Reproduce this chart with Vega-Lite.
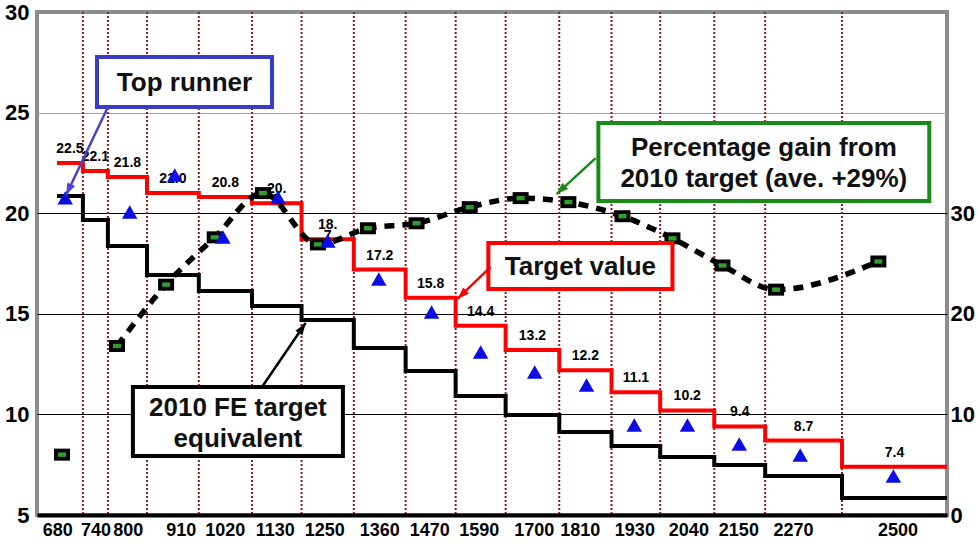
{
  "$schema": "https://vega.github.io/schema/vega-lite/v6.json",
  "width": 910,
  "height": 503,
  "autosize": "none",
  "padding": {"left": 37, "top": 12, "right": 33, "bottom": 30},
  "background": "white",
  "config": {
    "font": "Liberation Sans",
    "view": {"stroke": "#8c8c8c", "strokeWidth": 4},
    "axis": {"labelFont": "Liberation Sans", "labelFontWeight": "bold", "labelColor": "black", "ticks": false, "tickSize": 0, "domain": false, "grid": false}
  },
  "datasets": {
    "classes": [
      {"cls": "680", "from": 651, "to": 708, "target": 22.5, "fe": 20.85, "txt": "22.5"},
      {"cls": "740", "from": 708, "to": 763, "target": 22.1, "fe": 19.66, "txt": "22.1"},
      {"cls": "800", "from": 763, "to": 849, "target": 21.8, "fe": 18.37, "txt": "21.8"},
      {"cls": "910", "from": 849, "to": 963, "target": 21.0, "fe": 16.93, "txt": "21.0"},
      {"cls": "1020", "from": 963, "to": 1080, "target": 20.8, "fe": 16.13, "txt": "20.8"},
      {"cls": "1130", "from": 1080, "to": 1189, "target": 20.5, "fe": 15.39, "txt": "20.\n5"},
      {"cls": "1250", "from": 1189, "to": 1304, "target": 18.7, "fe": 14.69, "txt": "18.\n7"},
      {"cls": "1360", "from": 1304, "to": 1418, "target": 17.2, "fe": 13.30, "txt": "17.2"},
      {"cls": "1470", "from": 1418, "to": 1528, "target": 15.8, "fe": 12.16, "txt": "15.8"},
      {"cls": "1590", "from": 1528, "to": 1638, "target": 14.4, "fe": 10.91, "txt": "14.4"},
      {"cls": "1700", "from": 1638, "to": 1756, "target": 13.2, "fe": 9.97, "txt": "13.2"},
      {"cls": "1810", "from": 1756, "to": 1871, "target": 12.2, "fe": 9.13, "txt": "12.2"},
      {"cls": "1930", "from": 1871, "to": 1978, "target": 11.1, "fe": 8.43, "txt": "11.1"},
      {"cls": "2040", "from": 1978, "to": 2097, "target": 10.2, "fe": 7.88, "txt": "10.2"},
      {"cls": "2150", "from": 2097, "to": 2209, "target": 9.4, "fe": 7.49, "txt": "9.4"},
      {"cls": "2270", "from": 2209, "to": 2378, "target": 8.7, "fe": 6.94, "txt": "8.7"},
      {"cls": "2500", "from": 2378, "to": 2609, "target": 7.4, "fe": 5.84, "txt": "7.4"}
    ],
    "topRunner": [
      {"w": 669, "fe": 20.76}, {"w": 811, "fe": 20.06}, {"w": 910, "fe": 21.9}, {"w": 1016, "fe": 18.82},
      {"w": 1137, "fe": 20.8}, {"w": 1247, "fe": 18.62}, {"w": 1359, "fe": 16.73}, {"w": 1475, "fe": 15.09},
      {"w": 1583, "fe": 13.1}, {"w": 1702, "fe": 12.11}, {"w": 1816, "fe": 11.46}, {"w": 1921, "fe": 9.47},
      {"w": 2038, "fe": 9.47}, {"w": 2152, "fe": 8.53}, {"w": 2286, "fe": 7.98}, {"w": 2491, "fe": 6.94}
    ],
    "gain": [
      {"w": 662, "gain": 6.0}, {"w": 783, "gain": 16.8}, {"w": 891, "gain": 22.9}, {"w": 998, "gain": 27.6},
      {"w": 1104, "gain": 32.0}, {"w": 1225, "gain": 26.9}, {"w": 1335, "gain": 28.5}, {"w": 1442, "gain": 29.0},
      {"w": 1559, "gain": 30.6}, {"w": 1671, "gain": 31.5}, {"w": 1776, "gain": 31.1}, {"w": 1895, "gain": 29.7},
      {"w": 2005, "gain": 27.5}, {"w": 2115, "gain": 24.8}, {"w": 2233, "gain": 22.4}, {"w": 2458, "gain": 25.2}
    ],
    "boxes": [
      {"note": "top", "w": 739, "w2": 1124, "v": 27.76, "v2": 25.28, "txt": "Top runner"},
      {"note": "gain", "w": 1842, "w2": 2570, "v": 24.48, "v2": 20.61, "txt": "Percentage gain from\n2010 target (ave. +29%)"},
      {"note": "target", "w": 1600, "w2": 2005, "v": 18.52, "v2": 16.23, "txt": "Target value"},
      {"note": "fe", "w": 818, "w2": 1280, "v": 11.36, "v2": 7.93, "txt": "2010 FE target\nequivalent"}
    ],
    "arrows": [
      {"note": "top", "w": 763, "v": 25.28, "w2": 671, "v2": 20.9},
      {"note": "gain", "w": 1836, "v": 22.74, "w2": 1750, "v2": 20.95},
      {"note": "target", "w": 1605, "v": 17.33, "w2": 1532, "v2": 15.74},
      {"note": "fe", "w": 1102, "v": 11.36, "w2": 1198, "v2": 14.54}
    ]
  },
  "layer": [
    {
      "layer": [
        {
          "data": {"name": "classes"},
          "transform": [{"filter": "datum.to < 2600"}],
          "mark": {"type": "rule", "color": "#8b1a1a", "strokeWidth": 2, "strokeDash": [2, 2]},
          "encoding": {
            "x": {"field": "to", "type": "quantitative", "title": null,
                  "scale": {"domain": [607, 2609], "nice": false, "zero": false},
                  "axis": {"values": [680, 740, 800, 910, 1020, 1130, 1250, 1360, 1470, 1590, 1700, 1810, 1930, 2040, 2150, 2270, 2500],
                           "format": "d", "labelFontSize": 18, "labelPadding": 6, "domain": true, "domainColor": "black", "domainWidth": 4,
                           "grid": false, "ticks": false, "labelOverlap": false, "labelFlush": false, "zindex": 1,
                           "labelOffset": {"condition": [
                             {"test": "datum.value === 680", "value": -13},
                             {"test": "datum.value === 740", "value": -2},
                             {"test": "datum.value === 800", "value": 3},
                             {"test": "datum.value === 910", "value": 6},
                             {"test": "datum.value === 1250 || datum.value === 1590", "value": -5},
                             {"test": "datum.value === 1810 || datum.value === 1930", "value": -4}
                           ], "value": 0}}}
          }
        },
        {
          "data": {"name": "classes"},
          "transform": [{"fold": ["from", "to"], "as": ["k", "w"]}],
          "mark": {"type": "line", "color": "#ff0000", "strokeWidth": 4},
          "encoding": {
            "x": {"field": "w", "type": "quantitative", "title": null, "scale": {"domain": [607, 2609], "nice": false, "zero": false}},
            "y": {"field": "target", "type": "quantitative", "title": null,
                  "scale": {"domain": [5, 30], "nice": false, "zero": false},
                  "axis": {"values": [5, 10, 15, 20, 25, 30], "labelFontSize": 22, "labelPadding": 8, "grid": true,
                           "gridColor": {"condition": {"test": "datum.value === 25", "value": "#a0a0a0"}, "value": "black"},
                           "gridOpacity": {"condition": {"test": "datum.value === 5 || datum.value === 30", "value": 0}, "value": 1},
                           "gridWidth": 1, "domain": false, "ticks": false}},
            "order": [{"field": "w", "type": "quantitative"}, {"field": "k", "type": "nominal", "sort": "descending"}]
          }
        },
        {
          "data": {"name": "classes"},
          "transform": [{"fold": ["from", "to"], "as": ["k", "w"]}],
          "mark": {"type": "line", "color": "black", "strokeWidth": 4},
          "encoding": {
            "x": {"field": "w", "type": "quantitative", "title": null, "scale": {"domain": [607, 2609], "nice": false, "zero": false}},
            "y": {"field": "fe", "type": "quantitative", "title": null, "scale": {"domain": [5, 30], "nice": false, "zero": false}},
            "order": [{"field": "w", "type": "quantitative"}, {"field": "k", "type": "nominal", "sort": "descending"}]
          }
        }
      ]
    },
    {
      "layer": [
        {
          "data": {"name": "gain"},
          "transform": [{"filter": "datum.w > 700"}],
          "mark": {"type": "line", "color": "black", "strokeWidth": 5.5, "strokeDash": [10, 8], "interpolate": "monotone"},
          "encoding": {
            "x": {"field": "w", "type": "quantitative", "title": null, "scale": {"domain": [607, 2609], "nice": false, "zero": false}},
            "y": {"field": "gain", "type": "quantitative", "title": null,
                  "scale": {"domain": [0, 50], "nice": false, "zero": false},
                  "axis": {"orient": "right", "values": [0, 10, 20, 30], "labelFontSize": 22, "labelPadding": 3, "grid": false, "domain": false, "ticks": false}}
          }
        },
        {
          "data": {"name": "gain"},
          "mark": {"type": "point", "shape": "M-1,-0.75L1,-0.75L1,0.75L-1,0.75Z", "filled": true, "color": "black", "opacity": 1, "size": 256},
          "encoding": {
            "x": {"field": "w", "type": "quantitative", "title": null, "scale": {"domain": [607, 2609], "nice": false, "zero": false}},
            "y": {"field": "gain", "type": "quantitative", "title": null, "scale": {"domain": [0, 50], "nice": false, "zero": false}}
          }
        },
        {
          "data": {"name": "gain"},
          "mark": {"type": "point", "shape": "M-1,-0.55L1,-0.55L1,0.55L-1,0.55Z", "filled": true, "color": "#2f9e2f", "opacity": 1, "size": 64},
          "encoding": {
            "x": {"field": "w", "type": "quantitative", "title": null, "scale": {"domain": [607, 2609], "nice": false, "zero": false}},
            "y": {"field": "gain", "type": "quantitative", "title": null, "scale": {"domain": [0, 50], "nice": false, "zero": false}}
          }
        }
      ]
    },
    {
      "layer": [
        {
          "data": {"name": "classes"},
          "transform": [{"calculate": "(datum.from + datum.to) / 2", "as": "mid"}],
          "mark": {"type": "text", "fontSize": 14, "fontWeight": "bold", "color": "black", "dy": -14, "lineBreak": "\n", "lineHeight": 11, "baseline": "middle"},
          "encoding": {
            "x": {"field": "mid", "type": "quantitative", "title": null, "scale": {"domain": [607, 2609], "nice": false, "zero": false}},
            "y": {"field": "target", "type": "quantitative", "axis": null, "scale": {"domain": [5, 30], "nice": false, "zero": false}},
            "text": {"field": "txt"}
          }
        },
        {
          "data": {"name": "topRunner"},
          "mark": {"type": "point", "shape": "triangle-up", "filled": true, "color": "#0c0ce6", "opacity": 1, "size": 240},
          "encoding": {
            "x": {"field": "w", "type": "quantitative", "title": null, "scale": {"domain": [607, 2609], "nice": false, "zero": false}},
            "y": {"field": "fe", "type": "quantitative", "axis": null, "scale": {"domain": [5, 30], "nice": false, "zero": false}}
          }
        },
        {
          "data": {"name": "boxes"},
          "mark": {"type": "rect", "fill": "white", "strokeWidth": 4},
          "encoding": {
            "x": {"field": "w", "type": "quantitative", "title": null, "scale": {"domain": [607, 2609], "nice": false, "zero": false}},
            "x2": {"field": "w2"},
            "y": {"field": "v", "type": "quantitative", "axis": null, "scale": {"domain": [5, 30], "nice": false, "zero": false}},
            "y2": {"field": "v2"},
            "stroke": {"field": "note", "type": "nominal", "legend": null,
                       "scale": {"domain": ["top", "gain", "target", "fe"], "range": ["#3b3bc6", "#178a17", "#ff0000", "#000000"]}}
          }
        },
        {
          "data": {"name": "boxes"},
          "transform": [
            {"filter": "datum.note === 'top' || datum.note === 'target'"},
            {"calculate": "(datum.w + datum.w2) / 2", "as": "cw"},
            {"calculate": "(datum.v + datum.v2) / 2", "as": "cv"}
          ],
          "mark": {"type": "text", "fontSize": 26, "fontWeight": "bold", "color": "#111111", "baseline": "middle", "align": "center", "dy": 1},
          "encoding": {
            "x": {"field": "cw", "type": "quantitative", "title": null, "scale": {"domain": [607, 2609], "nice": false, "zero": false}},
            "y": {"field": "cv", "type": "quantitative", "axis": null, "scale": {"domain": [5, 30], "nice": false, "zero": false}},
            "text": {"field": "txt"}
          }
        },
        {
          "data": {"name": "boxes"},
          "transform": [
            {"filter": "datum.note === 'gain' || datum.note === 'fe'"},
            {"calculate": "(datum.w + datum.w2) / 2", "as": "cw"},
            {"calculate": "(datum.v + datum.v2) / 2", "as": "cv"}
          ],
          "mark": {"type": "text", "fontSize": 26, "fontWeight": "bold", "color": "#111111", "lineBreak": "\n", "lineHeight": 31, "baseline": "middle", "align": "center", "dy": -14},
          "encoding": {
            "x": {"field": "cw", "type": "quantitative", "title": null, "scale": {"domain": [607, 2609], "nice": false, "zero": false}},
            "y": {"field": "cv", "type": "quantitative", "axis": null, "scale": {"domain": [5, 30], "nice": false, "zero": false}},
            "text": {"field": "txt"}
          }
        },
        {
          "data": {"name": "arrows"},
          "mark": {"type": "rule", "strokeWidth": 2.5},
          "encoding": {
            "x": {"field": "w", "type": "quantitative", "title": null, "scale": {"domain": [607, 2609], "nice": false, "zero": false}},
            "x2": {"field": "w2"},
            "y": {"field": "v", "type": "quantitative", "axis": null, "scale": {"domain": [5, 30], "nice": false, "zero": false}},
            "y2": {"field": "v2"},
            "color": {"field": "note", "type": "nominal", "legend": null,
                      "scale": {"domain": ["top", "gain", "target", "fe"], "range": ["#4a44cc", "#178a17", "#ff0000", "#000000"]}}
          }
        },
        {
          "data": {"name": "arrows"},
          "mark": {"type": "point", "shape": "M0,0L-0.7,2L0.7,2Z", "filled": true, "opacity": 1, "size": 144},
          "encoding": {
            "x": {"field": "w2", "type": "quantitative", "title": null, "scale": {"domain": [607, 2609], "nice": false, "zero": false}},
            "y": {"field": "v2", "type": "quantitative", "axis": null, "scale": {"domain": [5, 30], "nice": false, "zero": false}},
            "color": {"field": "note", "type": "nominal", "legend": null,
                      "scale": {"domain": ["top", "gain", "target", "fe"], "range": ["#4a44cc", "#178a17", "#ff0000", "#000000"]}},
            "angle": {"condition": [
                        {"test": "datum.note === 'top'", "value": 205},
                        {"test": "datum.note === 'gain'", "value": 227},
                        {"test": "datum.note === 'target'", "value": 226}
                      ], "value": 34}
          }
        }
      ]
    }
  ],
  "resolve": {"scale": {"y": "independent"}}
}
